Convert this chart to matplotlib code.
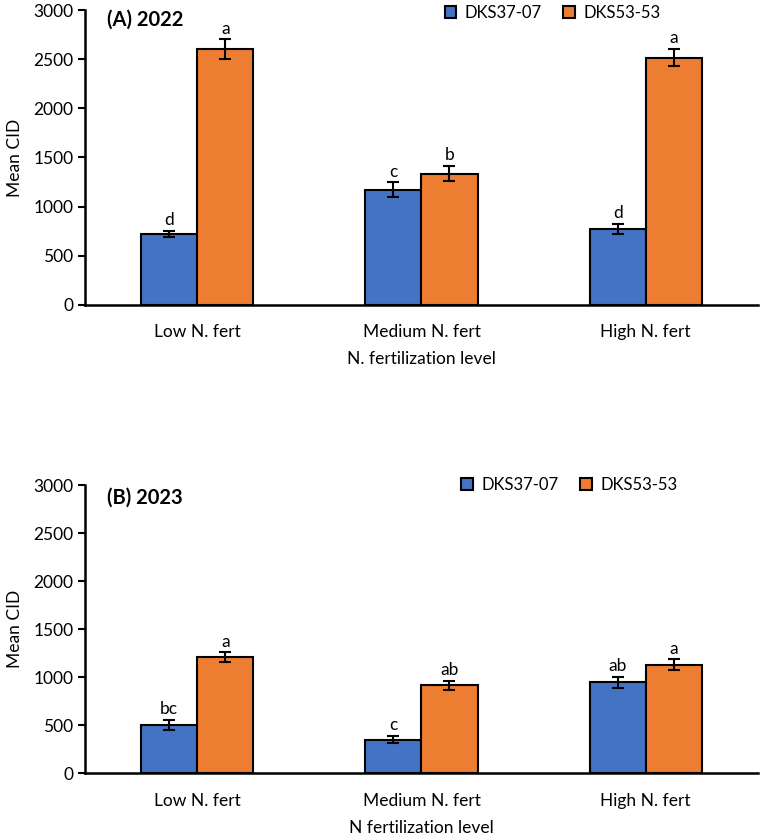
import matplotlib
matplotlib.use("Agg")
import matplotlib.pyplot as plt
import numpy as np

categories = ["Low N. fert", "Medium N. fert", "High N. fert"]
series_names = ["DKS37-07", "DKS53-53"]

# 2022
mean_2022_dks37 = [720, 1170, 775]
err_2022_dks37 = [30, 75, 50]
mean_2022_dks53 = [2600, 1335, 2515]
err_2022_dks53 = [100, 80, 85]
letters_2022_dks37 = ["d", "c", "d"]
letters_2022_dks53 = ["a", "b", "a"]

# 2023
mean_2023_dks37 = [505, 350, 945]
err_2023_dks37 = [50, 40, 55]
mean_2023_dks53 = [1210, 915, 1130]
err_2023_dks53 = [48, 45, 55]
letters_2023_dks37 = ["bc", "c", "ab"]
letters_2023_dks53 = ["a", "ab", "a"]

BLUE = "#4472C4"
ORANGE = "#ED7D31"
FS = 12.5

plt.rcParams["font.family"] = ["Lato", "DejaVu Sans"]

fig = plt.figure(figsize=(7.67, 8.35), dpi=100)
ax_a = fig.add_axes([0.111, 0.635, 0.877, 0.353])
ax_b = fig.add_axes([0.111, 0.074, 0.877, 0.345])


def draw_panel(ax, m1, e1, m2, e2, l1, l2, title, title_y, xlabel, legend_x, legend_y):
    x = np.arange(len(categories))
    w = 0.25
    kw = dict(edgecolor="black", linewidth=1.5, zorder=2)
    ax.bar(x - w / 2, m1, w, color=BLUE, label=series_names[0], **kw)
    ax.bar(x + w / 2, m2, w, color=ORANGE, label=series_names[1], **kw)
    ekw = dict(fmt="none", ecolor="black", elinewidth=1.5, capsize=4, capthick=1.5, zorder=3)
    ax.errorbar(x - w / 2, m1, yerr=e1, **ekw)
    ax.errorbar(x + w / 2, m2, yerr=e2, **ekw)
    for xi, m, e, t in zip(x - w / 2, m1, e1, l1):
        ax.text(xi, m + e + 30, t, ha="center", va="bottom", fontsize=FS)
    for xi, m, e, t in zip(x + w / 2, m2, e2, l2):
        ax.text(xi, m + e + 30, t, ha="center", va="bottom", fontsize=FS)

    ax.set_xlim(-0.5, 2.5)
    ax.set_ylim(0, 3000)
    ax.set_yticks(np.arange(0, 3001, 500))
    ax.set_xticks(x)
    ax.set_xticklabels(categories, fontsize=FS)
    ax.tick_params(axis="x", length=0, pad=14)
    ax.tick_params(axis="y", labelsize=FS, width=1.5, length=5, direction="out")
    for s in ("top", "right"):
        ax.spines[s].set_visible(False)
    for s in ("left", "bottom"):
        ax.spines[s].set_linewidth(1.8)
    ax.set_ylabel("Mean CID", fontsize=FS)
    ax.yaxis.set_label_coords(-0.092, 0.5)
    ax.set_xlabel(xlabel, fontsize=FS, labelpad=8)
    ax.text(0.033, title_y, title, transform=ax.transAxes, fontsize=14.5,
            fontweight="bold", va="center", ha="left")
    ax.legend(loc="center", bbox_to_anchor=(legend_x, legend_y), ncol=2,
              frameon=False, fontsize=12, handlelength=0.7, handleheight=0.7,
              columnspacing=1.3, handletextpad=0.5, borderaxespad=0)


draw_panel(ax_a, mean_2022_dks37, err_2022_dks37, mean_2022_dks53, err_2022_dks53,
           letters_2022_dks37, letters_2022_dks53, "(A) 2022", 0.966,
           "N. fertilization level", 0.695, 0.99)
draw_panel(ax_b, mean_2023_dks37, err_2023_dks37, mean_2023_dks53, err_2023_dks53,
           letters_2023_dks37, letters_2023_dks53, "(B) 2023", 0.958,
           "N fertilization level", 0.72, 1.0)

fig.savefig("out.png", dpi=100)
